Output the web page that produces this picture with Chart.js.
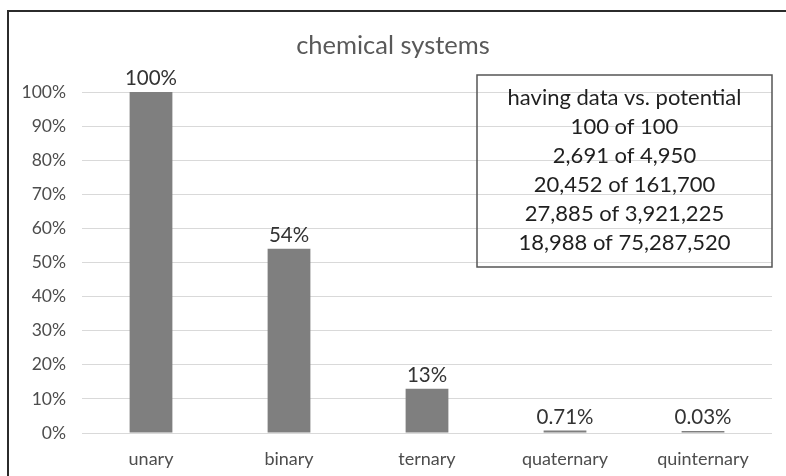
<!DOCTYPE html>
<html>
<head>
<meta charset="utf-8">
<script src="https://cdn.jsdelivr.net/npm/chart.js@4.4.1/dist/chart.umd.min.js"></script>
<style>
  html, body { margin: 0; padding: 0; background: #ffffff; }
  #wrap { width: 786px; height: 476px; }
</style>
</head>
<body>
<div id="wrap"><canvas id="chart" width="786" height="476"></canvas></div>
<script>
// Share of chemical systems that have data, by number of components
const categories = ['unary', 'binary', 'ternary', 'quaternary', 'quinternary'];
const sharePercent = [100, 54, 13, 0.71, 0.03];
const systemsWithData = [100, 2691, 20452, 27885, 18988];
const systemsPossible = [100, 4950, 161700, 3921225, 75287520];
const yTicks = [0, 10, 20, 30, 40, 50, 60, 70, 80, 90, 100];

const FONT = 'Lato, "Open Sans", sans-serif';
const fmt = n => n.toLocaleString('en-US');

const decorations = {
  id: 'decorations',
  beforeDraw(chart) {
    const ctx = chart.ctx;
    ctx.save();
    ctx.fillStyle = '#ffffff';
    ctx.fillRect(0, 0, chart.width, chart.height);
    ctx.restore();
  },
  afterDraw(chart) {
    const ctx = chart.ctx;
    ctx.save();

    // frame around the chart (top and left edges)
    ctx.strokeStyle = '#2b2b2b';
    ctx.lineWidth = 2;
    ctx.beginPath();
    ctx.moveTo(8, chart.height);
    ctx.lineTo(8, 11);
    ctx.lineTo(chart.width, 11);
    ctx.stroke();

    // title
    ctx.fillStyle = '#595959';
    ctx.font = '25.5px ' + FONT;
    ctx.textAlign = 'center';
    ctx.textBaseline = 'middle';
    ctx.fillText('chemical systems', 393, 46);

    // value labels above the bars
    const meta = chart.getDatasetMeta(0);
    ctx.fillStyle = '#333333';
    ctx.font = '20.5px ' + FONT;
    ctx.textBaseline = 'alphabetic';
    meta.data.forEach((bar, i) => {
      const top = Math.min(bar.y, bar.base - 2);
      ctx.fillText(sharePercent[i] + '%', bar.x, top - 7);
    });

    // summary box: systems with data vs. possible systems
    const bx = 477, by = 75, bw = 295, bh = 192;
    ctx.strokeStyle = '#555555';
    ctx.lineWidth = 1.5;
    ctx.strokeRect(bx, by, bw, bh);
    ctx.fillStyle = '#1f1f1f';
    ctx.font = '22px ' + FONT;
    ctx.textBaseline = 'middle';
    const cx = bx + bw / 2;
    const lines = ['having data vs. potential'].concat(
      systemsWithData.map((v, i) => fmt(v) + ' of ' + fmt(systemsPossible[i]))
    );
    lines.forEach((t, i) => ctx.fillText(t, cx, 98 + i * 29));

    ctx.restore();
  }
};

new Chart(document.getElementById('chart'), {
  type: 'bar',
  data: {
    labels: categories,
    datasets: [{
      data: sharePercent,
      backgroundColor: '#7f7f7f',
      borderWidth: 0,
      barPercentage: 0.31,
      categoryPercentage: 1.0,
      minBarLength: 2
    }]
  },
  options: {
    responsive: false,
    animation: false,
    devicePixelRatio: 1,
    layout: { padding: { left: 0, right: 14, top: 92, bottom: 0 } },
    plugins: {
      legend: { display: false },
      title: { display: false },
      tooltip: { enabled: false }
    },
    scales: {
      x: {
        grid: { display: false, drawTicks: false },
        border: { display: false },
        ticks: { color: '#4d4d4d', font: { family: FONT, size: 18 }, padding: 15 },
        afterFit(s) { s.height = 43; }
      },
      y: {
        min: 0,
        max: 100,
        afterBuildTicks(s) { s.ticks = yTicks.map(v => ({ value: v })); },
        grid: { color: '#d9d9d9', lineWidth: 1, drawTicks: false },
        border: { display: false },
        ticks: {
          color: '#4d4d4d',
          font: { family: FONT, size: 17.5 },
          padding: 16,
          callback: v => v + '%'
        },
        afterFit(s) { s.width = 82; }
      }
    }
  },
  plugins: [decorations]
});
</script>
</body>
</html>
